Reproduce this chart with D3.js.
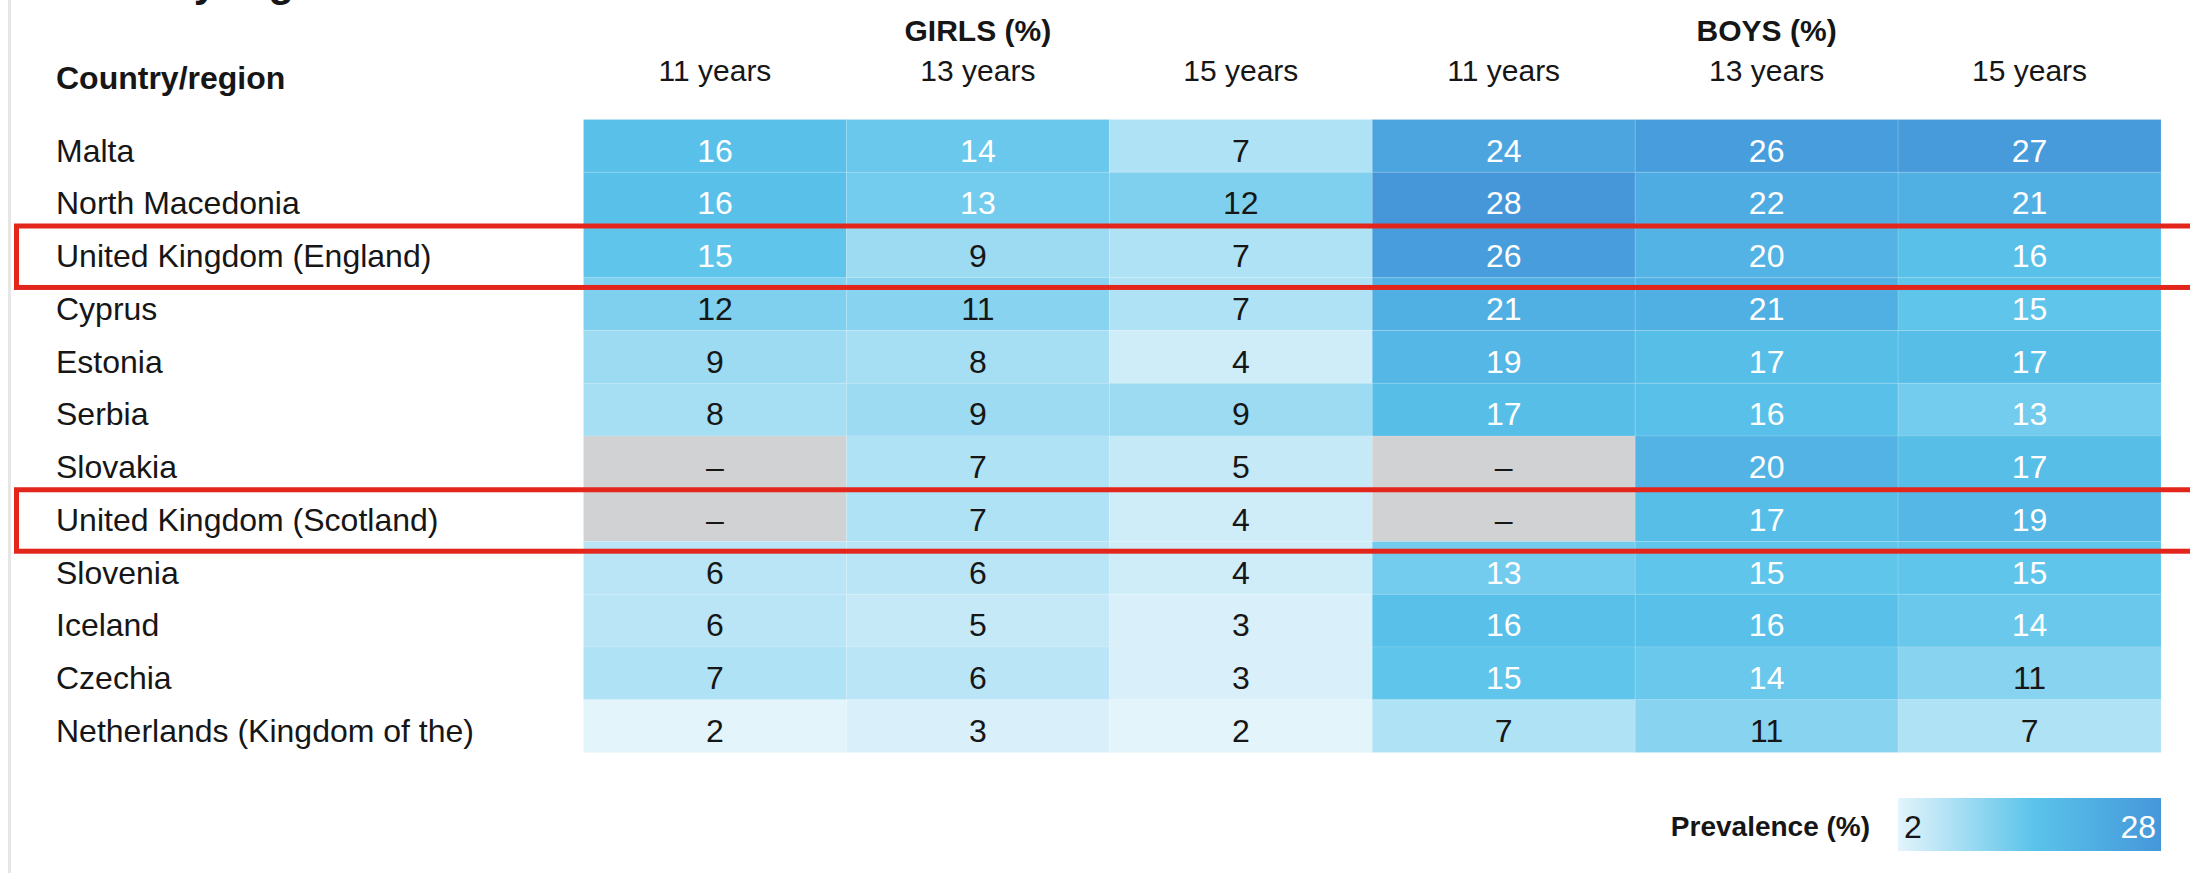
<!DOCTYPE html>
<html>
<head>
<meta charset="utf-8">
<script src="https://cdn.jsdelivr.net/npm/d3@7"></script>
<style>
  html, body { margin: 0; padding: 0; background: #ffffff; }
  svg { display: block; }
  text { font-family: "Liberation Sans", Arial, sans-serif; }
</style>
</head>
<body>
<div id="chart"></div>
<script>
// ---------------- data ----------------
const countries = [
  "Malta", "North Macedonia", "United Kingdom (England)", "Cyprus", "Estonia",
  "Serbia", "Slovakia", "United Kingdom (Scotland)", "Slovenia", "Iceland",
  "Czechia", "Netherlands (Kingdom of the)"
];
const groups = ["GIRLS (%)", "BOYS (%)"];
const ageLabels = ["11 years", "13 years", "15 years"];
const girls11 = [16, 16, 15, 12, 9, 8, null, null, 6, 6, 7, 2];
const girls13 = [14, 13, 9, 11, 8, 9, 7, 7, 6, 5, 6, 3];
const girls15 = [7, 12, 7, 7, 4, 9, 5, 4, 4, 3, 3, 2];
const boys11  = [24, 28, 26, 21, 19, 17, null, null, 13, 16, 15, 7];
const boys13  = [26, 22, 20, 21, 17, 16, 20, 17, 15, 16, 14, 11];
const boys15  = [27, 21, 16, 15, 17, 13, 17, 19, 15, 14, 11, 7];
const highlighted = ["United Kingdom (England)", "United Kingdom (Scotland)"];
const legendTitle = "Prevalence (%)";
const legendDomain = [2, 28];
const titleText = "Country/region";
const rowHeaderText = "Country/region";

// ---------------- build table ----------------
const seriesList = [
  { key: "g11", group: 0, age: 0, values: girls11 },
  { key: "g13", group: 0, age: 1, values: girls13 },
  { key: "g15", group: 0, age: 2, values: girls15 },
  { key: "b11", group: 1, age: 0, values: boys11 },
  { key: "b13", group: 1, age: 1, values: boys13 },
  { key: "b15", group: 1, age: 2, values: boys15 }
];
const cells = [];
seriesList.forEach(s => {
  s.values.forEach((v, i) => cells.push({ col: s.key, country: countries[i], value: v }));
});

// ---------------- layout ----------------
const W = 2190, H = 873;
const svg = d3.select("#chart").append("svg").attr("width", W).attr("height", H);

const x = d3.scaleBand().domain(seriesList.map(s => s.key)).range([583.5, 2161]).padding(0);
const y = d3.scaleBand().domain(countries).range([119.5, 752.5]).padding(0);

const mid = 15.5;
const color = d3.scaleLinear()
  .domain([legendDomain[0], mid, legendDomain[1]])
  .range(["#e3f4fb", "#5ac3ea", "#4597da"])
  .interpolate(d3.interpolateRgb);

const FS = 32;
const dark = "#161616";

// left page rule
svg.append("rect").attr("x", 8).attr("y", 0).attr("width", 3).attr("height", H).attr("fill", "#e6e6e6");

// clipped title (only descenders visible at the top edge, as in the reference)
svg.append("text")
  .attr("x", 56).attr("y", -4)
  .attr("font-size", 42).attr("font-weight", "bold").attr("fill", dark)
  .text(titleText);

// column group headers
groups.forEach((g, gi) => {
  const key = seriesList.find(s => s.group === gi && s.age === 1).key;
  svg.append("text")
    .attr("x", x(key) + x.bandwidth() / 2).attr("y", 41)
    .attr("text-anchor", "middle")
    .attr("font-size", 30).attr("font-weight", "bold").attr("fill", dark)
    .text(g);
});
// age headers
svg.append("g").selectAll("text").data(seriesList).join("text")
  .attr("x", d => x(d.key) + x.bandwidth() / 2).attr("y", 81)
  .attr("text-anchor", "middle")
  .attr("font-size", 30).attr("fill", dark)
  .text(d => ageLabels[d.age]);

// row header
svg.append("text")
  .attr("x", 56).attr("y", 89)
  .attr("font-size", FS).attr("font-weight", "bold").attr("fill", dark)
  .text(rowHeaderText);

// row labels
svg.append("g").selectAll("text").data(countries).join("text")
  .attr("x", 56).attr("y", d => y(d) + 42)
  .attr("font-size", FS).attr("fill", dark)
  .text(d => d);

// cells
svg.append("g").selectAll("rect").data(cells).join("rect")
  .attr("x", d => x(d.col)).attr("y", d => y(d.country))
  .attr("width", x.bandwidth()).attr("height", y.bandwidth())
  .attr("fill", d => d.value == null ? "#d1d2d4" : color(d.value))
  .attr("stroke", "rgba(255,255,255,0.12)").attr("stroke-width", 1);

svg.append("g").selectAll("text").data(cells).join("text")
  .attr("x", d => x(d.col) + x.bandwidth() / 2).attr("y", d => y(d.country) + 42)
  .attr("text-anchor", "middle")
  .attr("font-size", FS)
  .attr("fill", d => (d.value != null && d.value >= 13) ? "#ffffff" : dark)
  .text(d => d.value == null ? "–" : d.value);

// highlight boxes
svg.append("g").selectAll("rect").data(highlighted).join("rect")
  .attr("x", 16.5).attr("y", d => y(d) + 1)
  .attr("width", W + 20).attr("height", y.bandwidth() * 1.165)
  .attr("fill", "none").attr("stroke", "#e3261c").attr("stroke-width", 5);

// legend
const lx = d3.scaleLinear().domain(legendDomain).range([x("b15"), x("b15") + x.bandwidth()]);
const defs = svg.append("defs");
const grad = defs.append("linearGradient").attr("id", "lg").attr("x1", "0%").attr("x2", "100%");
color.domain().forEach(v => {
  grad.append("stop")
    .attr("offset", ((v - legendDomain[0]) / (legendDomain[1] - legendDomain[0]) * 100) + "%")
    .attr("stop-color", color(v));
});
svg.append("rect")
  .attr("x", lx(legendDomain[0])).attr("y", 798)
  .attr("width", lx(legendDomain[1]) - lx(legendDomain[0])).attr("height", 53)
  .attr("fill", "url(#lg)");
svg.append("text")
  .attr("x", lx(legendDomain[0]) + 6).attr("y", 838)
  .attr("font-size", FS).attr("fill", dark).text(legendDomain[0]);
svg.append("text")
  .attr("x", lx(legendDomain[1]) - 5).attr("y", 838)
  .attr("text-anchor", "end")
  .attr("font-size", FS).attr("fill", "#ffffff").text(legendDomain[1]);
svg.append("text")
  .attr("x", lx(legendDomain[0]) - 28).attr("y", 836)
  .attr("text-anchor", "end")
  .attr("font-size", 28).attr("font-weight", "bold").attr("fill", dark)
  .text(legendTitle);
</script>
</body>
</html>
